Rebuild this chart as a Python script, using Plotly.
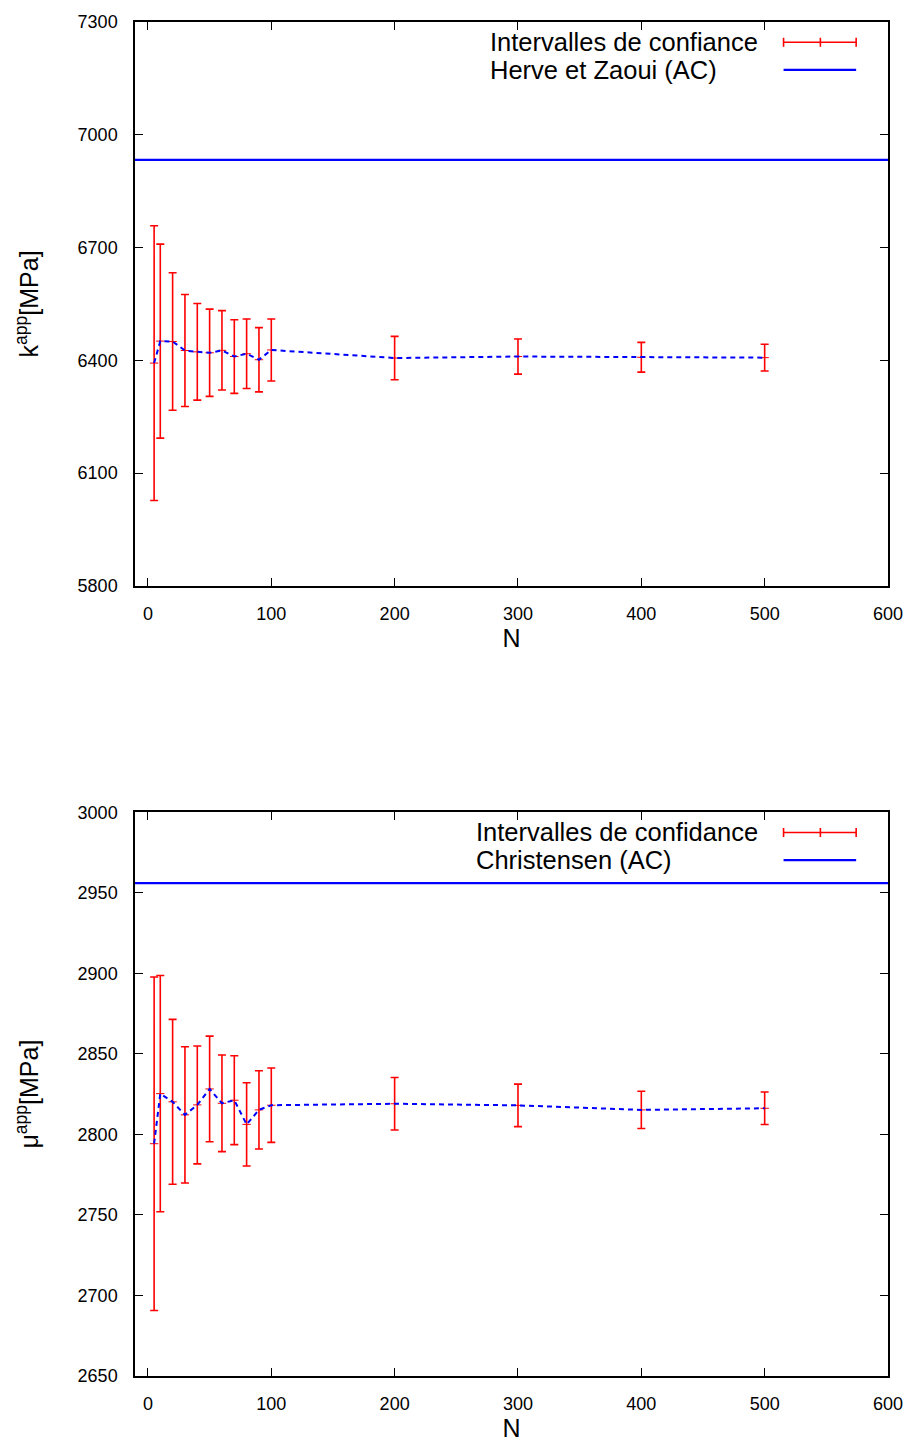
import plotly.graph_objects as go
from plotly.subplots import make_subplots

N = [5, 10, 20, 30, 40, 50, 60, 70, 80, 90, 100, 200, 300, 400, 500]
k_mean = [6392.5, 6451, 6450, 6426, 6422.5, 6420, 6426.5, 6410, 6417.5, 6401.5, 6427.5, 6406, 6410, 6408, 6407]
k_err = [365.5, 258, 183, 149, 128.5, 116, 105.5, 98, 92.5, 85.5, 82.5, 57.6, 46.7, 39.6, 35.6]
k_ref = 6933
mu_mean = [2794.2, 2825.3, 2820.2, 2812.1, 2818.3, 2828.2, 2819.3, 2821.2, 2806.2, 2815.2, 2818.1, 2819, 2818, 2815.2, 2816.2]
mu_err = [103.5, 73.3, 51.2, 42.3, 36.6, 32.8, 30, 27.6, 25.8, 24.3, 23.1, 16.3, 13.2, 11.6, 10.1]
mu_ref = 2956

x_range = [-10.5, 600]
k_range = [5800, 7300]
mu_range = [2650, 3000]

legend_top = ["Intervalles de confiance", "Herve et Zaoui (AC)"]
legend_bot = ["Intervalles de confidance", "Christensen (AC)"]

RED = "#ff0000"
BLUE = "#0000ff"
FONT = "Liberation Sans, Arial, sans-serif"

fig = make_subplots(rows=2, cols=1, vertical_spacing=0.0)

for row, mean, err, ref in [(1, k_mean, k_err, k_ref), (2, mu_mean, mu_err, mu_ref)]:
    fig.add_trace(go.Scatter(
        x=N, y=mean, mode="markers",
        marker=dict(color=RED, size=6, symbol="line-ew", line=dict(color=RED, width=1)),
        error_y=dict(type="data", array=err, visible=True, color=RED, thickness=1.6, width=4),
        showlegend=False), row=row, col=1)
    fig.add_trace(go.Scatter(
        x=N, y=mean, mode="lines",
        line=dict(color=BLUE, width=2, dash="5px,4px"),
        showlegend=False), row=row, col=1)
    fig.add_trace(go.Scatter(
        x=x_range, y=[ref, ref], mode="lines",
        line=dict(color=BLUE, width=2.2),
        showlegend=False), row=row, col=1)

axis_common = dict(
    showline=True, linecolor="black", linewidth=1.5, mirror="allticks",
    ticks="inside", ticklen=8, tickwidth=1, tickcolor="black",
    showgrid=False, zeroline=False,
    tickfont=dict(family=FONT, size=18, color="black"),
)

fig.update_xaxes(range=x_range, dtick=100, tick0=0, ticklabelstandoff=11,
                 title=dict(text="N", font=dict(family=FONT, size=25, color="black"), standoff=6),
                 **axis_common)
fig.update_yaxes(ticklabelstandoff=12,
                 title_font=dict(family=FONT, size=25, color="black"),
                 **axis_common)
fig.update_yaxes(range=k_range, dtick=300, tick0=5800, row=1, col=1,
                 title=dict(text="k<sup>app</sup>[MPa]", standoff=32))
fig.update_yaxes(range=mu_range, dtick=50, tick0=2650, row=2, col=1,
                 title=dict(text="\u03bc<sup>app</sup>[MPa]", standoff=32))

fig.update_layout(
    yaxis=dict(domain=[0.5836, 1.0]),
    yaxis2=dict(domain=[0.0, 0.4164]),
    xaxis=dict(domain=[0, 1], anchor="y"),
    xaxis2=dict(domain=[0, 1], anchor="y2"),
)

# gnuplot-style legends (left-justified text block, key sample on the right)
shapes = []
annotations = []
for xr, yr, labels, xt in [("x domain", "y domain", legend_top, 0.4703),
                           ("x2 domain", "y2 domain", legend_bot, 0.4518)]:
    y1, y2 = 0.964, 0.915
    for lab, yy in ((labels[0], y1), (labels[1], y2)):
        annotations.append(dict(xref=xr, yref=yr, x=xt, y=yy, xanchor="left", yanchor="middle",
                                text=lab, showarrow=False, borderpad=0,
                                font=dict(family=FONT, size=25.5, color="black")))
    xa, xm, xb = 0.8613, 0.9102, 0.9577
    cap = 0.008
    shapes.append(dict(type="line", xref=xr, yref=yr, x0=xa, x1=xb, y0=y1, y1=y1,
                       line=dict(color=RED, width=1.6)))
    for xc in (xa, xm, xb):
        shapes.append(dict(type="line", xref=xr, yref=yr, x0=xc, x1=xc, y0=y1 - cap, y1=y1 + cap,
                           line=dict(color=RED, width=1.6)))
    shapes.append(dict(type="line", xref=xr, yref=yr, x0=xa, x1=xb, y0=y2, y1=y2,
                       line=dict(color=BLUE, width=2.2)))

fig.update_layout(
    width=915, height=1450,
    margin=dict(l=135, r=22, t=20, b=66),
    paper_bgcolor="white", plot_bgcolor="white",
    showlegend=False,
    shapes=shapes, annotations=annotations,
    font=dict(family=FONT, color="black"),
)

fig.write_html("out.html")
